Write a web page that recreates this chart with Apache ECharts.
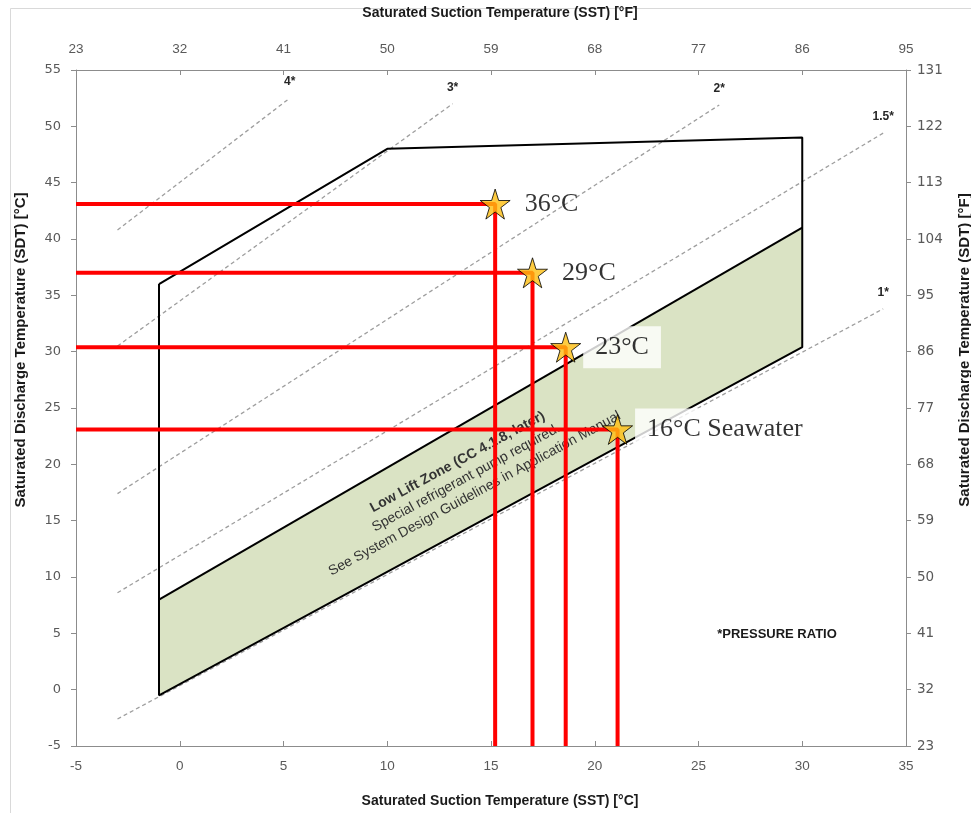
<!DOCTYPE html>
<html>
<head>
<meta charset="utf-8">
<script src="https://cdn.jsdelivr.net/npm/echarts@6/dist/echarts.min.js"></script>
<style>
  html, body { margin: 0; padding: 0; background: #ffffff; }
  #chart { width: 971px; height: 813px; }
</style>
</head>
<body>
<div id="chart"></div>
<script>
// Axis ranges in °C; °F tick labels for the secondary axes
const sstRange = [-5, 35];
const sdtRange = [-5, 55];
const sstLabelsF = ['23', '32', '41', '50', '59', '68', '77', '86', '95'];
const sdtLabelsF = ['23', '32', '41', '50', '59', '68', '77', '86', '95', '104', '113', '122', '131'];

// Operating envelope outline (SST °C, SDT °C)
const envelopeSST = [-1, 10, 30, 30, -1, -1];
const envelopeSDT = [36, 48, 49, 30.4, -0.5, 36];

// Low lift zone corners (SST °C, SDT °C)
const lowLiftSST = [-1, 30, 30, -1];
const lowLiftSDT = [8, 41, 30.4, -0.5];

// Pressure ratio reference lines
const ratioNames = ['4*', '3*', '2*', '1.5*', '1*'];
const ratioStartSST = [-3, -3, -3, -3, -3];
const ratioStartSDT = [40.8, 30.5, 17.4, 8.6, -2.6];
const ratioEndSST = [5.3, 13.15, 26, 33.9, 33.9];
const ratioEndSDT = [52.5, 52.0, 51.9, 49.4, 33.8];

// Seawater operating points
const pointNames = ['36°C', '29°C', '23°C', '16°C Seawater'];
const pointSST = [15.2, 17.0, 18.6, 21.1];
const pointSDT = [43.1, 37.0, 30.4, 23.1];

const sansFont = "'Liberation Sans', Arial, sans-serif";
const wideFont = "'DejaVu Sans', Verdana, sans-serif";
const serifFont = "'Liberation Serif', 'Times New Roman', serif";
const axisGray = '#8C8C8C';
const labelGray = '#595959';

const STAR = 'path://M50,0 L61.2,34.5 L97.6,34.5 L68.2,55.9 L79.4,90.5 L50,69.1 L20.6,90.5 L31.8,55.9 L2.4,34.5 L38.8,34.5 Z';

// Zone annotation anchor (data coords) and its slope
const zoneTextAnchor = [13.8, 18.8];
const zoneTextAngle = 28.5;

const chart = echarts.init(document.getElementById('chart'), null, { renderer: 'canvas' });

const series = [];

// Low lift zone: shaded band with its rotated annotation
series.push({
  type: 'custom',
  xAxisIndex: 0, yAxisIndex: 0,
  z: 1,
  silent: true,
  data: [0],
  renderItem: function (params, api) {
    const pts = lowLiftSST.map((x, i) => api.coord([x, lowLiftSDT[i]]));
    const c = api.coord(zoneTextAnchor);
    const txt = (t, y, bold) => ({
      type: 'text', x: 0, y: y,
      style: {
        text: t, fill: '#333333', align: 'center', verticalAlign: 'middle',
        fontFamily: sansFont, fontSize: 14, fontWeight: bold ? 'bold' : 'normal'
      }
    });
    return {
      type: 'group',
      children: [
        { type: 'polygon', shape: { points: pts }, style: { fill: '#DAE3C4' } },
        {
          type: 'group', x: c[0], y: c[1], rotation: zoneTextAngle * Math.PI / 180,
          children: [
            txt('Low Lift Zone (CC 4.1.8, later)', -18, true),
            txt('Special refrigerant pump required.', 0, false),
            txt('See System Design Guidelines in Application Manual', 18, false)
          ]
        }
      ]
    };
  }
});

// Pressure ratio lines
ratioNames.forEach((name, i) => {
  series.push({
    type: 'line',
    name: 'PR ' + name,
    z: 2,
    silent: true,
    symbol: 'circle',
    symbolSize: 1,
    itemStyle: { color: 'rgba(0,0,0,0)' },
    lineStyle: { color: '#9E9E9E', width: 1.3, type: [4, 3] },
    data: [
      [ratioStartSST[i], ratioStartSDT[i]],
      {
        value: [ratioEndSST[i], ratioEndSDT[i]],
        label: {
          show: true, formatter: name, position: 'top', distance: 10,
          color: '#262626', fontFamily: sansFont, fontWeight: 'bold', fontSize: 12
        }
      }
    ]
  });
});

// Envelope outline
series.push({
  type: 'line',
  name: 'Envelope',
  z: 3,
  silent: true,
  symbol: 'none',
  lineStyle: { color: '#000000', width: 2 },
  data: envelopeSST.map((x, i) => [x, envelopeSDT[i]])
});

// Upper edge of the low lift zone
series.push({
  type: 'line',
  name: 'Low lift limit',
  z: 3,
  silent: true,
  symbol: 'none',
  lineStyle: { color: '#000000', width: 2 },
  data: [[lowLiftSST[0], lowLiftSDT[0]], [lowLiftSST[1], lowLiftSDT[1]]]
});

// Red guide lines from each operating point to both axes
pointNames.forEach((name, i) => {
  series.push({
    type: 'line',
    name: 'Guide ' + name,
    z: 5,
    silent: true,
    symbol: 'none',
    lineStyle: { color: '#FF0000', width: 4 },
    data: [
      [sstRange[0], pointSDT[i]],
      [pointSST[i], pointSDT[i]],
      [pointSST[i], sdtRange[0]]
    ]
  });
});

// Operating points
const boxed = [false, false, true, true];
series.push({
  type: 'scatter',
  name: 'Seawater',
  z: 10,
  symbol: STAR,
  symbolSize: 30,
  itemStyle: { color: '#FEBE10', borderColor: '#000000', borderWidth: 1 },
  label: {
    show: true, position: 'right', distance: 2,
    fontFamily: serifFont, fontSize: 26, color: '#000000',
    padding: [8, 12, 8, 12]
  },
  data: pointNames.map((name, i) => ({
    value: [pointSST[i], pointSDT[i]],
    label: { formatter: name, backgroundColor: boxed[i] ? '#FFFFFF' : 'transparent' }
  }))
});

const axisCommon = {
  type: 'value',
  splitLine: { show: false },
  axisLine: { show: true, onZero: false, lineStyle: { color: axisGray, width: 1 } },
  axisTick: { show: true, lineStyle: { color: axisGray } }
};

const option = {
  backgroundColor: '#ffffff',
  animation: false,
  grid: { left: 76, right: 65, top: 70, bottom: 67, containLabel: false },
  xAxis: [
    Object.assign({}, axisCommon, {
      position: 'bottom', min: sstRange[0], max: sstRange[1], interval: 5,
      axisTick: { show: true, inside: true, length: 5, lineStyle: { color: axisGray } },
      axisLabel: { margin: 13, fontFamily: sansFont, fontSize: 13.5, color: labelGray }
    }),
    Object.assign({}, axisCommon, {
      position: 'top', min: sstRange[0], max: sstRange[1], interval: 5,
      axisTick: { show: true, inside: true, length: 5, lineStyle: { color: axisGray } },
      axisLabel: {
        margin: 14, fontFamily: sansFont, fontSize: 13.5, color: labelGray,
        formatter: v => sstLabelsF[Math.round((v - sstRange[0]) / 5)]
      }
    })
  ],
  yAxis: [
    Object.assign({}, axisCommon, {
      position: 'left', min: sdtRange[0], max: sdtRange[1], interval: 5,
      axisTick: { show: true, length: 5, lineStyle: { color: axisGray } },
      axisLabel: { margin: 15, fontFamily: wideFont, fontSize: 13, color: labelGray }
    }),
    Object.assign({}, axisCommon, {
      position: 'right', min: sdtRange[0], max: sdtRange[1], interval: 5,
      axisTick: { show: true, length: 5, lineStyle: { color: axisGray } },
      axisLabel: {
        margin: 11, fontFamily: wideFont, fontSize: 13.5, color: labelGray,
        formatter: v => sdtLabelsF[Math.round((v - sdtRange[0]) / 5)]
      }
    })
  ],
  graphic: [
    {
      type: 'rect', silent: true, z: -1,
      shape: { x: 10.5, y: 8.5, width: 1000, height: 1000 },
      style: { fill: null, stroke: '#D9D9D9', lineWidth: 1 }
    },
    {
      type: 'text', x: 500, y: 13,
      style: { text: 'Saturated Suction Temperature (SST) [°F]', align: 'center', verticalAlign: 'middle',
               fontFamily: sansFont, fontWeight: 'bold', fontSize: 14, fill: '#1a1a1a' }
    },
    {
      type: 'text', x: 500, y: 801,
      style: { text: 'Saturated Suction Temperature (SST) [°C]', align: 'center', verticalAlign: 'middle',
               fontFamily: sansFont, fontWeight: 'bold', fontSize: 14, fill: '#1a1a1a' }
    },
    {
      type: 'text', x: 21, y: 350, rotation: Math.PI / 2,
      style: { text: 'Saturated Discharge Temperature (SDT) [°C]', align: 'center', verticalAlign: 'middle',
               fontFamily: sansFont, fontWeight: 'bold', fontSize: 15, fill: '#1a1a1a' }
    },
    {
      type: 'text', x: 965, y: 350, rotation: Math.PI / 2,
      style: { text: 'Saturated Discharge Temperature (SDT) [°F]', align: 'center', verticalAlign: 'middle',
               fontFamily: sansFont, fontWeight: 'bold', fontSize: 15, fill: '#1a1a1a' }
    },
    {
      type: 'text', x: 777, y: 634,
      style: { text: '*PRESSURE RATIO', align: 'center', verticalAlign: 'middle',
               fontFamily: sansFont, fontWeight: 'bold', fontSize: 13, fill: '#1a1a1a' }
    }
  ],
  series: series
};

chart.setOption(option);
</script>
</body>
</html>
